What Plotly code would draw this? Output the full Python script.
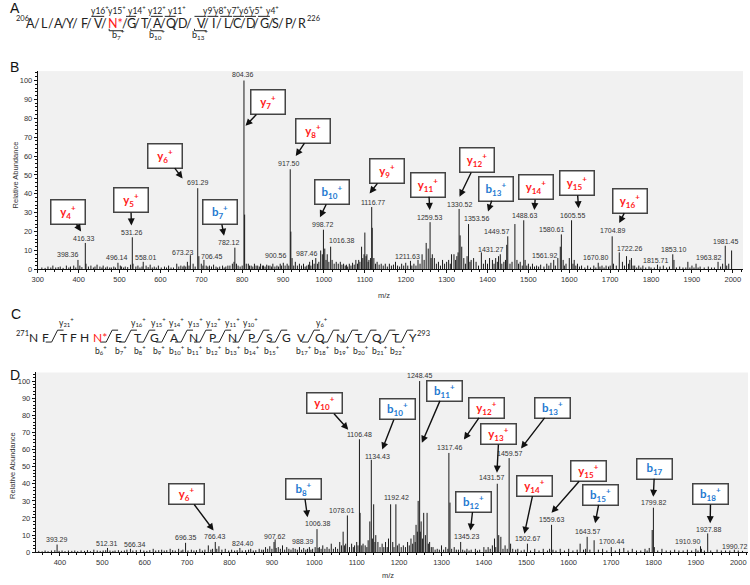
import plotly.graph_objects as go

# ------------------------------------------------------------------ DATA
# Panel B: labelled peaks (m/z, relative abundance)
B_lab_mz = [398.36, 416.33, 496.14, 531.26, 558.01, 673.23, 691.29, 706.45, 782.12, 804.36,
            900.56, 917.50, 987.46, 998.72, 1016.38, 1116.77, 1211.63, 1259.53, 1330.52, 1353.56,
            1431.27, 1449.57, 1488.63, 1561.92, 1580.61, 1605.55, 1670.80, 1704.89, 1722.26,
            1815.71, 1853.10, 1963.82, 1981.45]
B_lab_int = [5, 14, 3.5, 17, 4, 7.5, 43, 5, 11.5, 100,
             3.5, 53, 4, 21, 12, 33, 4.5, 25, 32, 24,
             8, 17.5, 26, 5, 18.5, 26, 3.5, 17.5, 9,
             2.5, 8, 4, 12.5]
# Panel B: unlabelled peaks
B_other_mz = [310, 318, 325, 332, 337, 344, 350, 355, 362, 370, 376, 380, 388, 393, 403, 408, 418, 424, 430, 436,
              440, 445, 452, 457, 460, 466, 470, 476, 480, 486, 490, 502, 505, 510, 514, 520, 527, 533, 540, 545,
              550, 555, 565, 570, 575, 580, 585, 590, 595, 602, 610, 615, 620, 626, 632, 640, 645, 650, 655, 658,
              662, 666, 670, 680, 685, 694, 700, 704, 712, 716, 720, 725, 730, 736, 740, 745, 752, 756, 760, 765,
              770, 776, 780, 786, 790, 795, 800, 806, 810, 815, 818, 822, 826, 830, 834, 838, 842, 845, 850, 852,
              856, 860, 864, 868, 872, 875, 880, 885, 889, 893, 896, 905, 910, 914, 919, 922, 926, 930, 935, 940,
              945, 950, 954, 958, 962, 965, 968, 972, 976, 980, 984, 992, 996, 1002, 1005, 1008, 1012, 1020, 1025, 1030,
              1035, 1040, 1044, 1048, 1052, 1055, 1058, 1062, 1066, 1070, 1074, 1078, 1082, 1085, 1088, 1092, 1095, 1098, 1100, 1103,
              1105, 1108, 1110, 1114, 1118, 1122, 1126, 1130, 1135, 1140, 1145, 1150, 1155, 1160, 1165, 1170, 1175, 1180, 1185, 1190,
              1195, 1200, 1205, 1215, 1220, 1225, 1230, 1235, 1240, 1245, 1250, 1255, 1262, 1265, 1270, 1275, 1280, 1285, 1290, 1295,
              1300, 1305, 1309, 1312, 1318, 1322, 1325, 1328, 1333, 1337, 1342, 1346, 1350, 1357, 1360, 1366, 1372, 1378, 1385, 1390,
              1395, 1400, 1405, 1412, 1416, 1420, 1424, 1427, 1435, 1440, 1444, 1447, 1455, 1460, 1467, 1472, 1476, 1480, 1485, 1492,
              1496, 1500, 1505, 1510, 1515, 1520, 1525, 1530, 1538, 1545, 1550, 1555, 1566, 1572, 1578, 1585, 1588, 1592, 1600, 1609,
              1612, 1616, 1620, 1625, 1630, 1638, 1645, 1652, 1660, 1665, 1675, 1680, 1685, 1690, 1696, 1700, 1708, 1715, 1730, 1735,
              1740, 1745, 1748, 1752, 1756, 1760, 1765, 1770, 1775, 1780, 1787, 1795, 1800, 1808, 1822, 1830, 1838, 1845, 1856, 1862,
              1870, 1878, 1885, 1890, 1895, 1900, 1905, 1910, 1915, 1920, 1930, 1940, 1948, 1955, 1970, 1975, 1985, 1990, 1997]
B_other_int = [1, 0.8, 1.5, 1, 2, 1, 1.2, 1.5, 0.8, 2, 1, 1.5, 2, 1, 2, 1.2, 3, 1.5, 2, 1,
               1.5, 2.5, 1.5, 1, 2, 1, 1.5, 1, 1, 1.5, 1, 2, 1.5, 1, 1.5, 1.2, 2.5, 3, 1.5, 2,
               1, 1.5, 2, 1.2, 2.5, 1, 1.5, 1, 2, 1, 1.5, 1, 2, 1, 1, 3, 1.5, 2, 1.5, 2,
               1.5, 4, 2, 3, 1.5, 7, 3, 2, 2, 1.5, 2, 1.5, 2.5, 1.5, 1, 1.5, 2, 1, 1.5, 2,
               2, 3, 4, 3, 2, 1.5, 2, 29, 3, 3, 2, 2, 1.5, 3, 2, 2, 1.5, 3, 2, 2,
               1.5, 2.5, 2, 2, 1.5, 3, 1.5, 2, 1.5, 3, 2, 2, 3, 2, 20, 6, 2, 4, 2, 3,
               2, 3, 1.5, 2, 2.5, 4, 2, 5, 3, 6, 3, 10, 8, 11, 5, 8, 4, 5, 3, 4,
               3, 4, 2.5, 3, 2, 2.5, 1.5, 3, 2, 3.5, 2.5, 5, 3, 5, 4, 12, 6, 8, 19.5, 7,
               8, 4, 5, 6, 22, 6, 3, 4, 2.5, 3, 2, 3, 1.5, 3, 2, 2.5, 4, 2, 1.5, 3,
               2, 3.5, 2, 2, 3, 2, 5, 3, 8, 5, 14, 11, 6, 8, 6, 3, 4, 2, 5, 3,
               4, 5, 3, 8, 8, 5, 7, 9, 18, 12, 6, 3, 7, 4, 5, 6, 4, 2, 9, 3,
               5, 3, 6, 5, 3, 6, 4, 7, 3, 4, 5, 13, 3, 4, 24, 5, 3, 4, 2, 5,
               2, 3, 1.5, 3, 1.5, 2, 1.5, 2.5, 1.5, 3, 2, 3.5, 2, 6, 12, 5, 2, 3, 6, 3,
               5, 2, 3, 1.5, 2, 1, 2, 1, 2, 1, 1.5, 2, 1, 2, 1.5, 2, 3, 2, 4, 2,
               7, 3, 5, 6, 2, 2, 1, 2, 1, 2, 1, 1.5, 1, 1, 1.5, 2, 1, 1.5, 5, 1,
               1.5, 1, 1, 4, 1, 2, 1, 3, 1, 1.5, 1, 1.5, 1, 1, 1.5, 3, 2, 3, 10]

# Panel D: labelled peaks
D_lab_mz = [393.29, 512.31, 566.34, 696.35, 766.43, 824.40, 907.62, 988.39, 1006.38, 1078.01,
            1106.48, 1134.43, 1192.42, 1248.45, 1317.46, 1345.23, 1431.57, 1459.57, 1502.67,
            1559.63, 1643.57, 1700.44, 1799.82, 1910.90, 1927.88, 1990.72]
D_lab_int = [4.5, 2.5, 2, 5.5, 6, 2.5, 7.5, 3, 13.5, 21.5,
             66, 54, 28, 100, 58, 6, 40, 55, 5,
             16, 9, 3, 26, 3.5, 11, 1.5]
# Panel D: unlabelled peaks
D_other_mz = [350, 358, 365, 372, 380, 388, 398, 405, 412, 420, 428, 435, 442, 450, 458, 465, 472, 480, 488, 495,
              502, 508, 518, 525, 530, 538, 545, 552, 558, 572, 580, 590, 598, 605, 612, 620, 626, 633, 640, 646,
              652, 660, 666, 672, 680, 686, 690, 702, 710, 716, 722, 730, 736, 742, 750, 756, 760, 770, 775, 782,
              790, 798, 805, 812, 818, 830, 838, 845, 850, 856, 862, 870, 876, 880, 885, 890, 895, 900, 905, 910,
              915, 920, 925, 930, 935, 940, 945, 950, 955, 960, 965, 970, 975, 980, 984, 992, 996, 1002, 1009, 1012,
              1016, 1020, 1025, 1030, 1035, 1040, 1045, 1050, 1055, 1060, 1064, 1068, 1071, 1074, 1083, 1088, 1092, 1095, 1100, 1103,
              1108, 1112, 1115, 1120, 1124, 1127, 1131, 1137, 1140, 1143, 1145, 1150, 1155, 1160, 1164, 1168, 1172, 1175, 1180, 1185,
              1188, 1196, 1200, 1205, 1210, 1215, 1220, 1224, 1228, 1232, 1235, 1238, 1240, 1243, 1245, 1250, 1252, 1255, 1258, 1262,
              1266, 1269, 1272, 1276, 1280, 1285, 1290, 1295, 1300, 1305, 1310, 1315, 1320, 1324, 1330, 1335, 1340, 1350, 1355, 1360,
              1365, 1370, 1380, 1385, 1390, 1400, 1405, 1410, 1415, 1420, 1425, 1428, 1435, 1440, 1445, 1450, 1455, 1463, 1468, 1475,
              1480, 1488, 1495, 1510, 1520, 1530, 1540, 1550, 1555, 1563, 1570, 1580, 1590, 1600, 1610, 1620, 1627, 1635, 1640, 1650,
              1660, 1670, 1680, 1690, 1710, 1720, 1730, 1740, 1750, 1760, 1770, 1780, 1785, 1790, 1797, 1802, 1810, 1820, 1830, 1840,
              1850, 1860, 1870, 1880, 1890, 1900, 1905, 1913, 1920, 1935, 1950, 1960, 1970, 1980, 2000, 2010]
D_other_int = [0.8, 0.5, 1, 0.6, 1, 1.2, 0.8, 1, 0.6, 1, 0.8, 1, 0.6, 1, 0.8, 1.2, 0.6, 1.5, 1, 0.8,
               1, 1.2, 1, 0.8, 1, 1.2, 0.8, 1, 1.5, 1, 1.2, 1.5, 1, 0.8, 1.2, 2, 1, 1.2, 1.5, 1,
               1.2, 2, 1.2, 1, 2, 1, 1.5, 1, 1.5, 1, 1.2, 2, 1, 1.5, 4, 1.5, 2, 2, 3.5, 1.5,
               2, 1, 1.5, 1, 1.2, 1, 1.2, 1.5, 2, 1, 1.2, 2, 1.5, 1.5, 3, 2, 3.5, 2, 6, 2.5,
               3, 2, 4, 1.5, 3, 2, 1.5, 2.5, 2, 1.5, 3, 1.5, 2.5, 1.5, 2, 1.5, 2, 3, 2.5, 3,
               2, 4, 2, 3, 2, 5, 2, 3, 2, 6, 4, 12, 4, 5, 3, 5, 3, 4, 6, 4,
               23, 4, 5, 4, 3, 7, 18, 8, 28, 6, 10, 6, 3, 5, 3, 6, 3, 8, 28, 6,
               3, 4, 5, 3, 4, 3, 6, 4, 8, 5, 10, 6, 16, 12, 30, 12, 18, 8, 23, 10,
               23, 5, 6, 3, 3, 1.5, 2, 1.5, 4, 1.5, 3, 2, 29, 2, 3, 1.5, 1.5, 1.5, 1, 2,
               1, 1.5, 2, 1, 1.5, 3, 1.5, 3, 2, 4, 8, 3, 10, 9, 2, 4, 2, 5, 2, 1.5,
               2, 1, 1.5, 1, 2, 1, 2, 1, 2, 1.5, 1, 2, 1, 2, 1, 1.5, 5, 1.5, 2, 1.5,
               7, 1.5, 2, 1, 1, 2, 2.5, 1, 2, 1, 1, 2, 1, 2.5, 13, 3, 1, 2, 1, 1,
               1.5, 1, 1, 1.5, 1, 2, 1, 2, 1, 1, 1.5, 1, 1, 1, 1, 0.8]

# Fragment ion call-outs: ion type, number, charge mark
B_frag_ion = ["y", "y", "y", "b", "y", "y", "b", "y", "y", "y", "b", "y", "y", "y"]
B_frag_num = ["4", "5", "6", "7", "7", "8", "10", "9", "11", "12", "13", "14", "15", "16"]
D_frag_ion = ["y", "b", "y", "b", "b", "y", "y", "b", "b", "y", "y", "b", "b", "b"]
D_frag_num = ["6", "8", "10", "10", "11", "12", "13", "13", "12", "14", "15", "15", "17", "18"]
D_frag_chg = ["+", "+", "+", "+", "+", "+", "+", "+", "+", "+", "+", "+", "", "+"]

# Peptide sequences
A_res = ["A", "L", "A", "Y", "F", "V", "N*", "G", "T", "A", "Q", "D", "V", "I", "L", "C", "D", "G", "S", "P", "R"]
A_start, A_end = "206", "226"
A_y_labels = ["16", "15", "14", "12", "11", "9", "8", "7", "6", "5", "4"]
A_b_labels = ["7", "10", "13"]
C_res = ["N", "F", "T", "F", "H", "N*", "E", "T", "G", "A", "N", "P", "N", "P", "S", "G",
         "V", "Q", "N", "T", "Q", "T", "Y"]
C_start, C_end = "271", "293"
C_y_labels = ["21", "16", "15", "14", "13", "12", "11", "10", "6"]
C_b_labels = ["6", "7", "8", "9", "10", "11", "12", "13", "14", "15", "17", "18", "19", "20", "21", "22"]

# ------------------------------------------------------------------ LAYOUT CONSTANTS
W, H = 750, 585
NUMF = "Liberation Sans"
SEQF = "Lato"
RED = "#ff1a1a"
BLUE = "#1f7ad1"


def px(x):
    return x / W


def py(y):
    return 1 - y / H


# label centres for peak numbers (data coords)
B_label_xy = [(375, 7.9), (414, 16.6), (493, 6.1), (530.6, 19.6), (565.5, 6.1), (654.4, 8.8), (690.8, 46),
              (727, 6.7), (767.7, 14), (802.4, 103.2), (883.4, 7.3), (915.7, 56), (957.7, 8.2), (996.6, 23.6),
              (1042.7, 15.2), (1119.6, 35.5), (1204.6, 7), (1258.7, 27.6), (1331.5, 34.4), (1372, 27.1),
              (1406.7, 10.5), (1423, 20.1), (1490.2, 28.3), (1540.3, 7.3), (1556.4, 21), (1607.4, 28.3),
              (1663.3, 6.1), (1706.2, 20.5), (1746.5, 11), (1811.3, 4.9), (1854.3, 10.5), (1940.7, 6.5),
              (1983.0, 14.9)]
D_label_xy = [(394, 7.5), (510.9, 5), (577, 4.6), (696.4, 8.5), (766.5, 8.9), (831.3, 5), (906.9, 9.1),
              (973, 6.4), (1007.4, 16.6), (1064.3, 24.3), (1107.3, 68.7), (1148, 56.2), (1192.9, 31.7),
              (1249.2, 103), (1317.8, 61.4), (1359, 9.4), (1417.5, 43.6), (1460.5, 57.7), (1503.3, 7.9),
              (1559.5, 19.1), (1643.6, 12.2), (1702.1, 6), (1799.6, 29.1), (1879.2, 6.5), (1929.7, 13.3),
              (1991.0, 3.1)]
# call-out placement: tip (x, y) and box centre (x, y), data coords
B_frag_pos = [(406.1, 20.1, 374.5, 30.3), (529.1, 23.3, 527.4, 36.6), (654.3, 48.1, 612.3, 60.1),
              (755.6, 17.8, 744.6, 30.3), (808.2, 76.0, 863.6, 88.5), (931.0, 60.0, 972.8, 73.3),
              (990.2, 27.6, 1020.1, 41.0), (1111.6, 40.2, 1154.3, 52.0), (1258.7, 31.5, 1255.5, 44.9),
              (1331.5, 38.5, 1374.5, 57.8), (1401.2, 30.6, 1420.6, 42.8), (1514.5, 31.5, 1518.9, 43.4),
              (1622.7, 32.4, 1618.4, 45.7), (1722.2, 24.5, 1749.4, 36.3)]
D_frag_pos = [(762.5, 12.7, 698.7, 33.9), (984.1, 20.4, 974.7, 37.1), (1080.0, 71.6, 1025.0, 86.9),
              (1160.2, 60.0, 1196.9, 83.4), (1253.7, 63.9, 1306.8, 94.4), (1352.9, 65.8, 1405.1, 84.5),
              (1430.8, 46.5, 1435.5, 68.9), (1487.6, 60.6, 1561.8, 84.5), (1368.3, 12.7, 1375.8, 29.5),
              (1495.6, 10.8, 1519.7, 38.8), (1559.5, 23.0, 1646.0, 47.5), (1662.4, 17.0, 1675.2, 33.6),
              (1799.6, 32.4, 1802.7, 48.9), (1933.7, 17.0, 1934.9, 33.9)]

A_res_x = [25, 39, 53, 65, 79, 93, 110.5, 127, 140, 153, 166, 178, 197, 210, 223, 233, 247, 261, 272, 285, 298]
A_slash_x = [31.7, 45, 58.3, 70, 84, 99, 120, 132.3, 144.3, 158.3, 171.7, 184.3, 201.7, 214.3, 228.3,
             239.3, 252.3, 266.7, 277.3, 290]
A_over = [(86, 99), (121, 131), (146, 158), (160, 171), (190, 202), (203, 214), (216, 228), (229, 240),
          (241, 252), (254, 266)]
A_under = [(104, 118), (146, 158), (190, 202)]
A_y_x = [95, 112, 132, 152, 172, 205, 216, 229, 241, 253, 269]
A_b_x = [113, 152, 196]

C_res_x = [28, 40, 58, 68, 79, 95, 113, 133, 150, 170, 189, 208, 228, 247, 266, 283, 298, 317, 337, 355,
           374, 393, 410]
C_cut_x = [49, 104, 123, 141.5, 160, 179.5, 198.5, 218, 237.5, 256.5, 274.5, 307.5, 327, 346, 364.5, 383.5, 401.5]
C_y_x = [61, 134, 153.5, 171.5, 191, 209, 228, 246.5, 319]
C_b_x = [96, 116, 135, 154, 172, 191, 210, 229, 248, 268, 300, 319, 339, 358, 377, 395]


def sticks(mz, inten):
    xs, ys = [], []
    for m, h in zip(mz, inten):
        xs += [m, m, None]
        ys += [0, h, None]
    return xs, ys


fig = go.Figure()
for (mz1, in1, mz2, in2, xa, ya) in [(B_lab_mz, B_lab_int, B_other_mz, B_other_int, "x", "y"),
                                     (D_lab_mz, D_lab_int, D_other_mz, D_other_int, "x2", "y2")]:
    xs, ys = sticks(list(mz2) + list(mz1), list(in2) + list(in1))
    fig.add_trace(go.Scatter(x=xs, y=ys, mode="lines", line=dict(color="#1a1a1a", width=1),
                             xaxis=xa, yaxis=ya, hoverinfo="skip", showlegend=False))

ann = []
shapes = []

LABF = dict(family=NUMF, size=7.0, color="#333")
for mz, (lx, ly) in zip(B_lab_mz, B_label_xy):
    ann.append(dict(x=lx, y=ly, xref="x", yref="y", text=f"{mz:.2f}", showarrow=False, font=LABF))
for mz, (lx, ly) in zip(D_lab_mz, D_label_xy):
    ann.append(dict(x=lx, y=ly, xref="x2", yref="y2", text=f"{mz:.2f}", showarrow=False, font=LABF))


def callout(ion, num, chg, pos, xr, yr, w, h):
    tx, ty, bx, by = pos
    col = RED if ion == "y" else BLUE
    sup = f"<sup>{chg}</sup>" if chg else ""
    return dict(x=tx, y=ty, xref=xr, yref=yr, ax=bx, ay=by, axref=xr, ayref=yr,
                text=f"<b>{ion}<sub>{num}</sub>{sup}</b>", showarrow=True,
                arrowhead=2, arrowsize=1, arrowwidth=1.4, arrowcolor="#111",
                font=dict(family=SEQF, size=11.5, color=col),
                bgcolor="white", bordercolor="#444", borderwidth=1.5, borderpad=0,
                width=w, height=h)


for ion, num, pos in zip(B_frag_ion, B_frag_num, B_frag_pos):
    ann.append(callout(ion, num, "+", pos, "x", "y", 33, 23))
for ion, num, chg, pos in zip(D_frag_ion, D_frag_num, D_frag_chg, D_frag_pos):
    ann.append(callout(ion, num, chg, pos, "x2", "y2", 34, 19))


def ptext(x, y, t, size, color="#222", family=SEQF, **kw):
    d = dict(x=px(x), y=py(y), xref="paper", yref="paper", text=t, showarrow=False,
             font=dict(family=family, size=size, color=color), xanchor="center", yanchor="middle")
    d.update(kw)
    return d


def pline(x0, y0, x1, y1, color="#222", width=1):
    return dict(type="line", xref="paper", yref="paper", x0=px(x0), y0=py(y0), x1=px(x1), y1=py(y1),
                line=dict(color=color, width=width))


# panel letters
for letter, (x, y) in zip("ABCD", [(9, 8), (9, 68), (10, 317), (9, 378)]):
    ann.append(ptext(x, y, letter, 14, color="#111", family=NUMF))

# axis titles
ann.append(ptext(10, 176, "Relative Abundance", 7.5, color="#333", family=NUMF, textangle=-90))
ann.append(ptext(7, 469, "Relative Abundance", 7.5, color="#333", family=NUMF, textangle=-90))
ann.append(ptext(381, 298, "m/z", 7.5, color="#333", family=NUMF))
ann.append(ptext(385, 580, "m/z", 7.5, color="#333", family=NUMF))

# ---- sequence A
ann.append(ptext(17, 19, A_start, 7.5))
ann.append(ptext(310, 19, A_end, 7.5))
for r, x in zip(A_res, A_res_x):
    ann.append(ptext(x, 24, r, 12.5, color=RED if "*" in r else "#222"))
for x in A_slash_x:
    ann.append(ptext(x, 24, "/", 12.5))
for x0, x1 in A_over:
    shapes.append(pline(x0, 16.5, x1, 16.5))
for x0, x1 in A_under:
    shapes.append(pline(x0, 31, x1, 31))
    shapes.append(pline(x0, 31, x0, 29))
for lab, x in zip(A_y_labels, A_y_x):
    ann.append(ptext(x, 10, f"y{lab}<sup>+</sup>", 8.5))
for lab, x in zip(A_b_labels, A_b_x):
    ann.append(ptext(x, 35, f"b<sub>{lab}</sub><sup>+</sup>", 9))

# ---- sequence C
ann.append(ptext(17, 336, C_start, 7.5))
ann.append(ptext(421, 336, C_end, 7.5))
for r, x in zip(C_res, C_res_x):
    ann.append(ptext(x, 340, r, 12, color=RED if "*" in r else "#222"))
for s in C_cut_x:
    shapes.append(dict(type="path", xref="paper", yref="paper",
                       path=f"M {px(s-9)},{py(345)} L {px(s-3)},{py(345)} L {px(s+3)},{py(333)} L {px(s+9)},{py(333)}",
                       line=dict(color="#222", width=1)))
for lab, x in zip(C_y_labels, C_y_x):
    ann.append(ptext(x, 325, f"y<sub>{lab}</sub><sup>+</sup>", 8.5))
for lab, x in zip(C_b_labels, C_b_x):
    ann.append(ptext(x, 353, f"b<sub>{lab}</sub><sup>+</sup>", 8.5))

xcommon = dict(showline=True, linecolor="#111", linewidth=1, ticks="outside", ticklen=3, tickcolor="#111",
               dtick=100, tick0=0, showgrid=False, zeroline=False,
               tickfont=dict(family=NUMF, size=7.5, color="#333"),
               minor=dict(ticks="outside", ticklen=2, dtick=20, tickcolor="#111"))
ycommon = dict(showline=True, linecolor="#111", linewidth=1, ticks="outside", ticklen=3, tickcolor="#111",
               dtick=10, tick0=0, range=[0, 105], showgrid=False, zeroline=False,
               tickfont=dict(family=NUMF, size=7.5, color="#333"),
               minor=dict(ticks="outside", ticklen=2, dtick=2, tickcolor="#111"))

fig.update_layout(
    width=W, height=H, autosize=False,
    margin=dict(l=0, r=0, t=0, b=0),
    paper_bgcolor="white", plot_bgcolor="#f1f1f1",
    xaxis=dict(domain=[32 / W, 743 / W], range=[300, 2025], anchor="y", **xcommon),
    yaxis=dict(domain=[py(271.7), py(71.7)], anchor="x", **ycommon),
    xaxis2=dict(domain=[30 / W, 748 / W], range=[343, 2023], anchor="y2", **xcommon),
    yaxis2=dict(domain=[py(557), py(375.7)], anchor="x2", **ycommon),
    annotations=ann, shapes=shapes, showlegend=False,
)

fig.write_html("out.html", config={"displayModeBar": False},
               post_script="document.body.style.margin='0';document.body.style.overflow='hidden';")
